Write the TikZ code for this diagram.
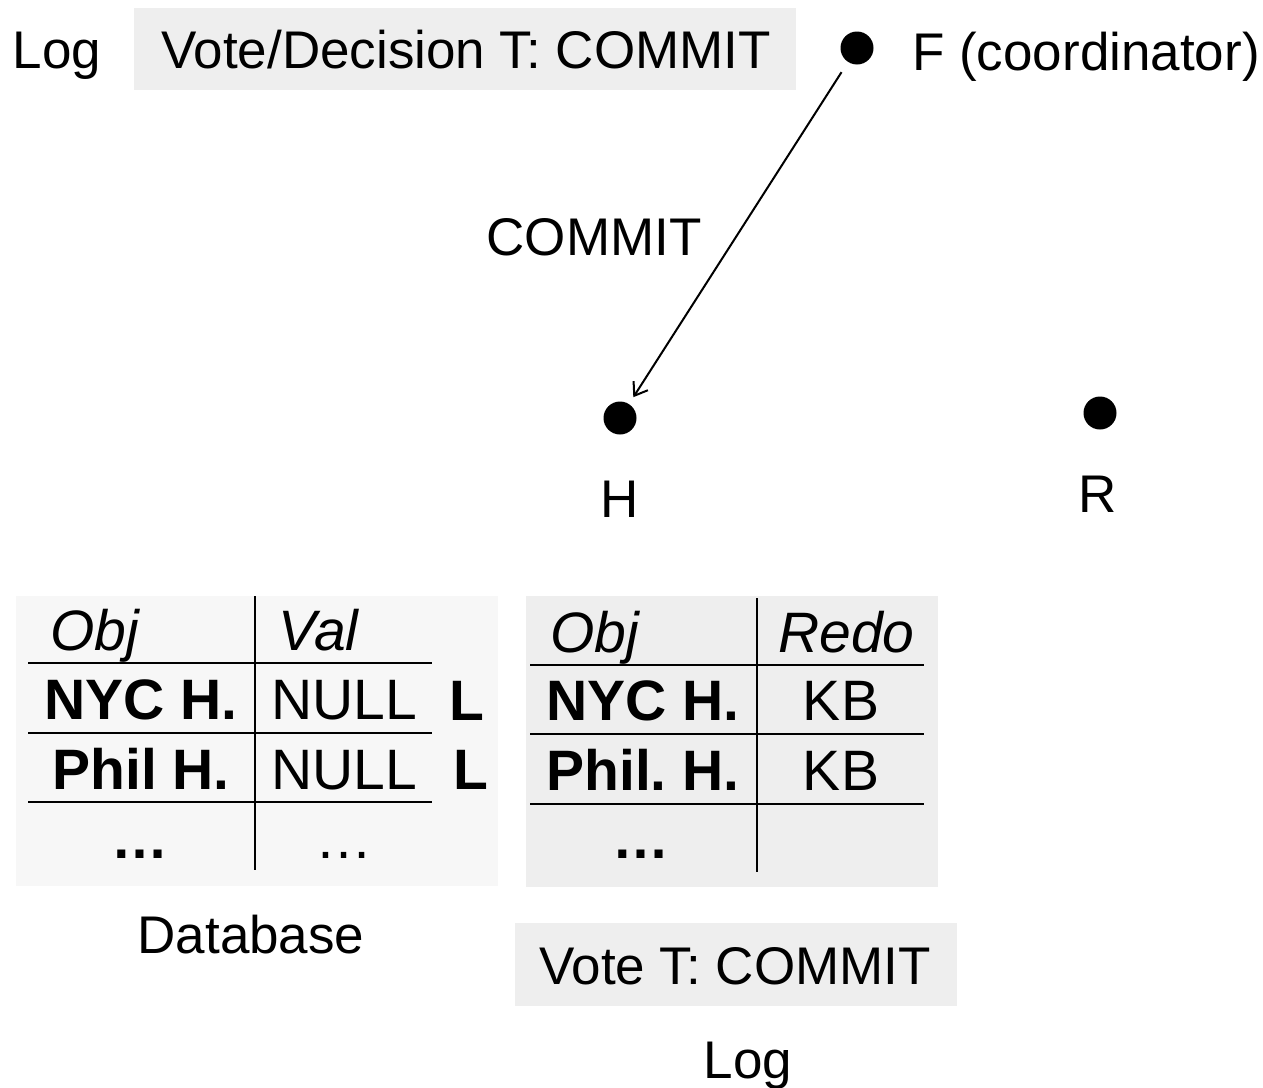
\documentclass[tikz,border=0pt]{standalone}
\usepackage{fontspec}
\setmainfont{Liberation Sans}
\usetikzlibrary{arrows.meta}
\definecolor{boxgray}{RGB}{238,238,238}
\definecolor{dbgray}{RGB}{247,247,247}
\frenchspacing
\begin{document}
\begin{tikzpicture}[x=1pt,y=-1pt,
  txt/.style={inner sep=0pt,anchor=base,font=\fontsize{53}{60}\selectfont},
  cell/.style={inner sep=0pt,anchor=base,font=\fontsize{57}{64}\selectfont},
  hdr/.style={cell,anchor=base west,font=\fontsize{57}{64}\selectfont\itshape},
  bcell/.style={cell,font=\fontsize{57}{64}\selectfont\bfseries},
  site/.style={circle,fill=black,inner sep=0pt,minimum size=33pt},
  rule/.style={line width=2.6pt},
  msg/.style={line width=2pt,-{Straight Barb[length=12pt,width=17pt,line width=2pt]}}]
\useasboundingbox (0,0) rectangle (1263,1087);

% coordinator log
\fill[boxgray] (134,8) rectangle (796,90);
\node[txt] (logtop) at (57,68) {Log};
\node[txt] (decision) at (466,68) {Vote/Decision T: COMMIT};

% sites
\node[site] (F) at (857,48) {};
\node[txt,anchor=base west] (Flabel) at (912,70) {F (coordinator)};
\node[site] (H) at (620,418) {};
\node[txt] (Hlabel) at (620,517) {H};
\node[site] (R) at (1100,413) {};
\node[txt] (Rlabel) at (1098,512) {R};

% commit message
\draw[msg,shorten <=12pt,shorten >=8pt] (F) -- (H);
\node[txt] (commitlbl) at (594,255) {COMMIT};

% database table
\fill[dbgray] (16,596) rectangle (498,886);
\draw[rule] (255,596) -- (255,870);
\foreach \yy in {663,733,802} \draw[rule] (28,\yy) -- (432,\yy);
\node[hdr] (dbobj) at (50,650) {Obj};
\node[hdr] (dbval) at (278,650) {Val};
\node[bcell] (dbr1) at (141,719) {NYC H.};
\node[cell] (dbv1) at (344,719) {NULL};
\node[bcell] (lock1) at (467,720) {L};
\node[bcell] (dbr2) at (141,789) {Phil H.};
\node[cell] (dbv2) at (344,789) {NULL};
\node[bcell] (lock2) at (471,789) {L};
\node[bcell] (dbr3) at (140,858) {\dots};
\node[cell] (dbv3) at (344,858) {\dots};
\node[txt] (dblabel) at (251,953) {Database};

% redo log table
\fill[boxgray] (526,596) rectangle (938,887);
\draw[rule] (757,598) -- (757,872);
\foreach \yy in {665,734,804} \draw[rule] (530,\yy) -- (924,\yy);
\node[hdr] (lgobj) at (550,652) {Obj};
\node[hdr] (lgredo) at (778,652) {Redo};
\node[bcell] (lgr1) at (643,720) {NYC H.};
\node[cell] (lgv1) at (841,720) {KB};
\node[bcell] (lgr2) at (643,790) {Phil. H.};
\node[cell] (lgv2) at (841,790) {KB};
\node[bcell] (lgr3) at (641,858) {\dots};

% participant log
\fill[boxgray] (515,923) rectangle (957,1006);
\node[txt] (vote) at (735,984) {Vote T: COMMIT};
\node[txt] (logbot) at (748,1078) {Log};
\end{tikzpicture}
\end{document}
